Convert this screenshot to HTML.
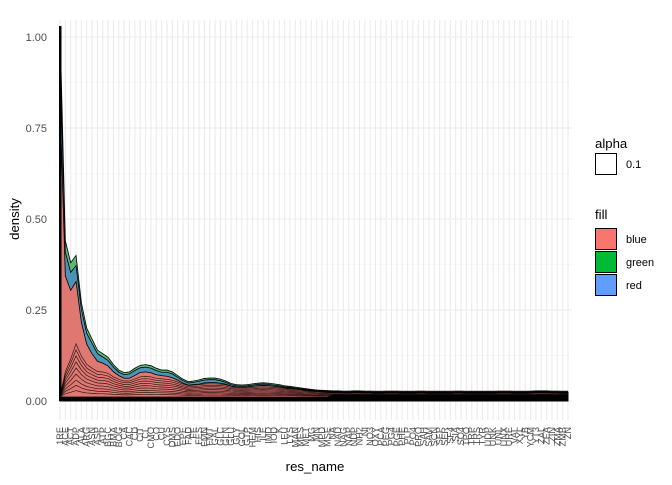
<!DOCTYPE html>
<html><head><meta charset="utf-8"><style>
body{margin:0;background:#fff;}
svg text{font-family:"Liberation Sans",sans-serif;}
</style></head><body>
<svg id="c" width="672" height="480" xmlns="http://www.w3.org/2000/svg"></svg>
<script>
const categories=["1RE","ACE","ACT","ADP","ALA","ARG","ASN","ASP","ATP","BGC","BMA","BOG","CA","CAC","CD","CIT","CL","CMO","CO","CU","CYS","DMS","EDO","EPE","FAD","FE","FES","FMN","FMT","GAL","GLC","GLN","GLU","GLY","GOL","GTP","HEM","HIS","ILE","IMD","IOD","K","LEU","LYS","MAN","MES","MET","MG","MN","MPD","MSE","NA","NAD","NAG","NAP","NDP","NH2","NI","NO3","OXY","PCA","PEG","PG4","PGE","PHE","PLP","PO4","PRO","SAH","SAM","SCN","SEP","SER","SF4","SIA","SO4","TPO","TRP","TRS","TYR","UDP","UNK","UNL","UNX","URE","VAL","XYL","YB","YCM","YT3","ZAL","ZEA","ZIN","ZMA","ZMB","ZN"];
const totalDensity=[1.03,0.44,0.38,0.40,0.27,0.20,0.17,0.14,0.13,0.12,0.10,0.085,0.078,0.08,0.09,0.098,0.10,0.097,0.09,0.085,0.085,0.08,0.07,0.06,0.053,0.055,0.058,0.062,0.063,0.063,0.06,0.055,0.048,0.045,0.044,0.045,0.047,0.049,0.05,0.049,0.047,0.045,0.042,0.04,0.038,0.036,0.034,0.032,0.03,0.029,0.028,0.027,0.027,0.026,0.026,0.027,0.027,0.026,0.026,0.025,0.025,0.026,0.026,0.026,0.025,0.025,0.025,0.026,0.026,0.025,0.025,0.025,0.025,0.025,0.026,0.026,0.025,0.025,0.025,0.025,0.025,0.025,0.026,0.026,0.026,0.025,0.025,0.025,0.026,0.027,0.027,0.027,0.026,0.026,0.025,0.025];
const redShare=[0.80,0.78,0.80,0.82,0.80,0.78,0.76,0.78,0.80,0.80,0.80,0.82,0.80,0.78,0.78,0.80,0.80,0.80,0.80,0.82,0.80,0.80,0.82,0.82,0.82,0.82,0.80,0.80,0.80,0.80,0.82,0.84,0.85,0.85,0.85];
const blueShare=0.93;
const yTicks=[0,0.25,0.5,0.75,1.0];
const yTickLabels=["0.00","0.25","0.50","0.75","1.00"];
const layerFracs=[0.08,0.15,0.22,0.3,0.38,0.46,0.54,0.62,0.7];

const NS="http://www.w3.org/2000/svg";
const svg=document.getElementById('c');
const PL=58,PR=572,PT=20,PB=420;
const x0=60,x1=568;
const xs=i=>x0+i*(x1-x0)/(categories.length-1);
const ys=v=>401-v*364;
function el(t,a,p){const e=document.createElementNS(NS,t);for(const k in a)e.setAttribute(k,a[k]);(p||svg).appendChild(e);return e;}

for(let v=0.125;v<1.1;v+=0.25){const g=el('line',{x1:PL,x2:PR,y1:ys(v),y2:ys(v),stroke:'#f3f3f3','stroke-width':0.6});

}
yTicks.forEach((v,i)=>{const g=el('line',{x1:PL,x2:PR,y1:ys(v),y2:ys(v),stroke:'#ebebeb','stroke-width':1.1});


const t=el('text',{x:47,y:ys(v)+4,'text-anchor':'end','font-size':11,fill:'#4d4d4d'});t.textContent=yTickLabels[i];

});
categories.forEach((c,i)=>{const g=el('line',{x1:xs(i),x2:xs(i),y1:PT,y2:PB,stroke:'#ebebeb','stroke-width':1.1});


const t=el('text',{transform:`translate(${xs(i)+3},${427}) rotate(-90)`,'text-anchor':'end','font-size':9.2,fill:'#4d4d4d'});t.textContent=c;

});

function share(i){return i<redShare.length?redShare[i]:0.86;}
function area(f,fill,name,op){let d=`M${xs(0)},${ys(0)}`;totalDensity.forEach((v,i)=>{d+=`L${xs(i)},${ys(f(v,i))}`;});d+=`L${xs(totalDensity.length-1)},${ys(0)}Z`;
const p=el('path',{d,fill,'fill-opacity':op,stroke:'#000','stroke-width':0.8});

return p;}
area((v)=>v,'#3fae5a','green-density',0.85);
area((v)=>v*blueShare,'#4a8fc0','blue-density',0.9);
area((v,i)=>v*share(i),'#e8766e','red-density',0.95);
layerFracs.forEach(f=>{let d='';totalDensity.forEach((v,i)=>{const yy=ys(0.012+v*share(i)*f*(1-Math.exp(-i/3)));d+=(i?'L':'M')+xs(i)+','+yy;});
const p=el('path',{d,fill:'none',stroke:'#000','stroke-width':0.7,'stroke-opacity':0.8});

});
{let d=`M${xs(0)},${ys(0)}`;totalDensity.forEach((v,i)=>{d+=`L${xs(i)},${ys(Math.min(v,0.012+(i>50?0.006:0)))}`;});d+=`L${xs(totalDensity.length-1)},${ys(0)}Z`;
const p=el('path',{d,fill:'#000'});}
{const p=el('rect',{x:xs(0)-1,y:ys(totalDensity[0]),width:2.5,height:ys(0)-ys(totalDensity[0]),fill:'#000'});}

let t=el('text',{x:315,y:471,'text-anchor':'middle','font-size':13.2,fill:'#000'});t.textContent='res_name';

t=el('text',{transform:'translate(19,219) rotate(-90)','text-anchor':'middle','font-size':13.2,fill:'#000'});t.textContent='density';


t=el('text',{x:595,y:148,'font-size':13.2});t.textContent='alpha';
let r=el('rect',{x:595.5,y:153.5,width:21,height:21,fill:'#fff',stroke:'#000','stroke-width':1});
t=el('text',{x:626,y:168,'font-size':11});t.textContent='0.1';
t=el('text',{x:595,y:219,'font-size':13.2});t.textContent='fill';
[['blue','#F8766D',228],['green','#00BA38',251],['red','#619CFF',274]].forEach(([n,c,y])=>{
const k=el('rect',{x:595.5,y:y+0.5,width:21,height:21,fill:c,stroke:'#000','stroke-width':1});

const l=el('text',{x:626,y:y+15,'font-size':11});l.textContent=n;
});
</script>
</body></html>
